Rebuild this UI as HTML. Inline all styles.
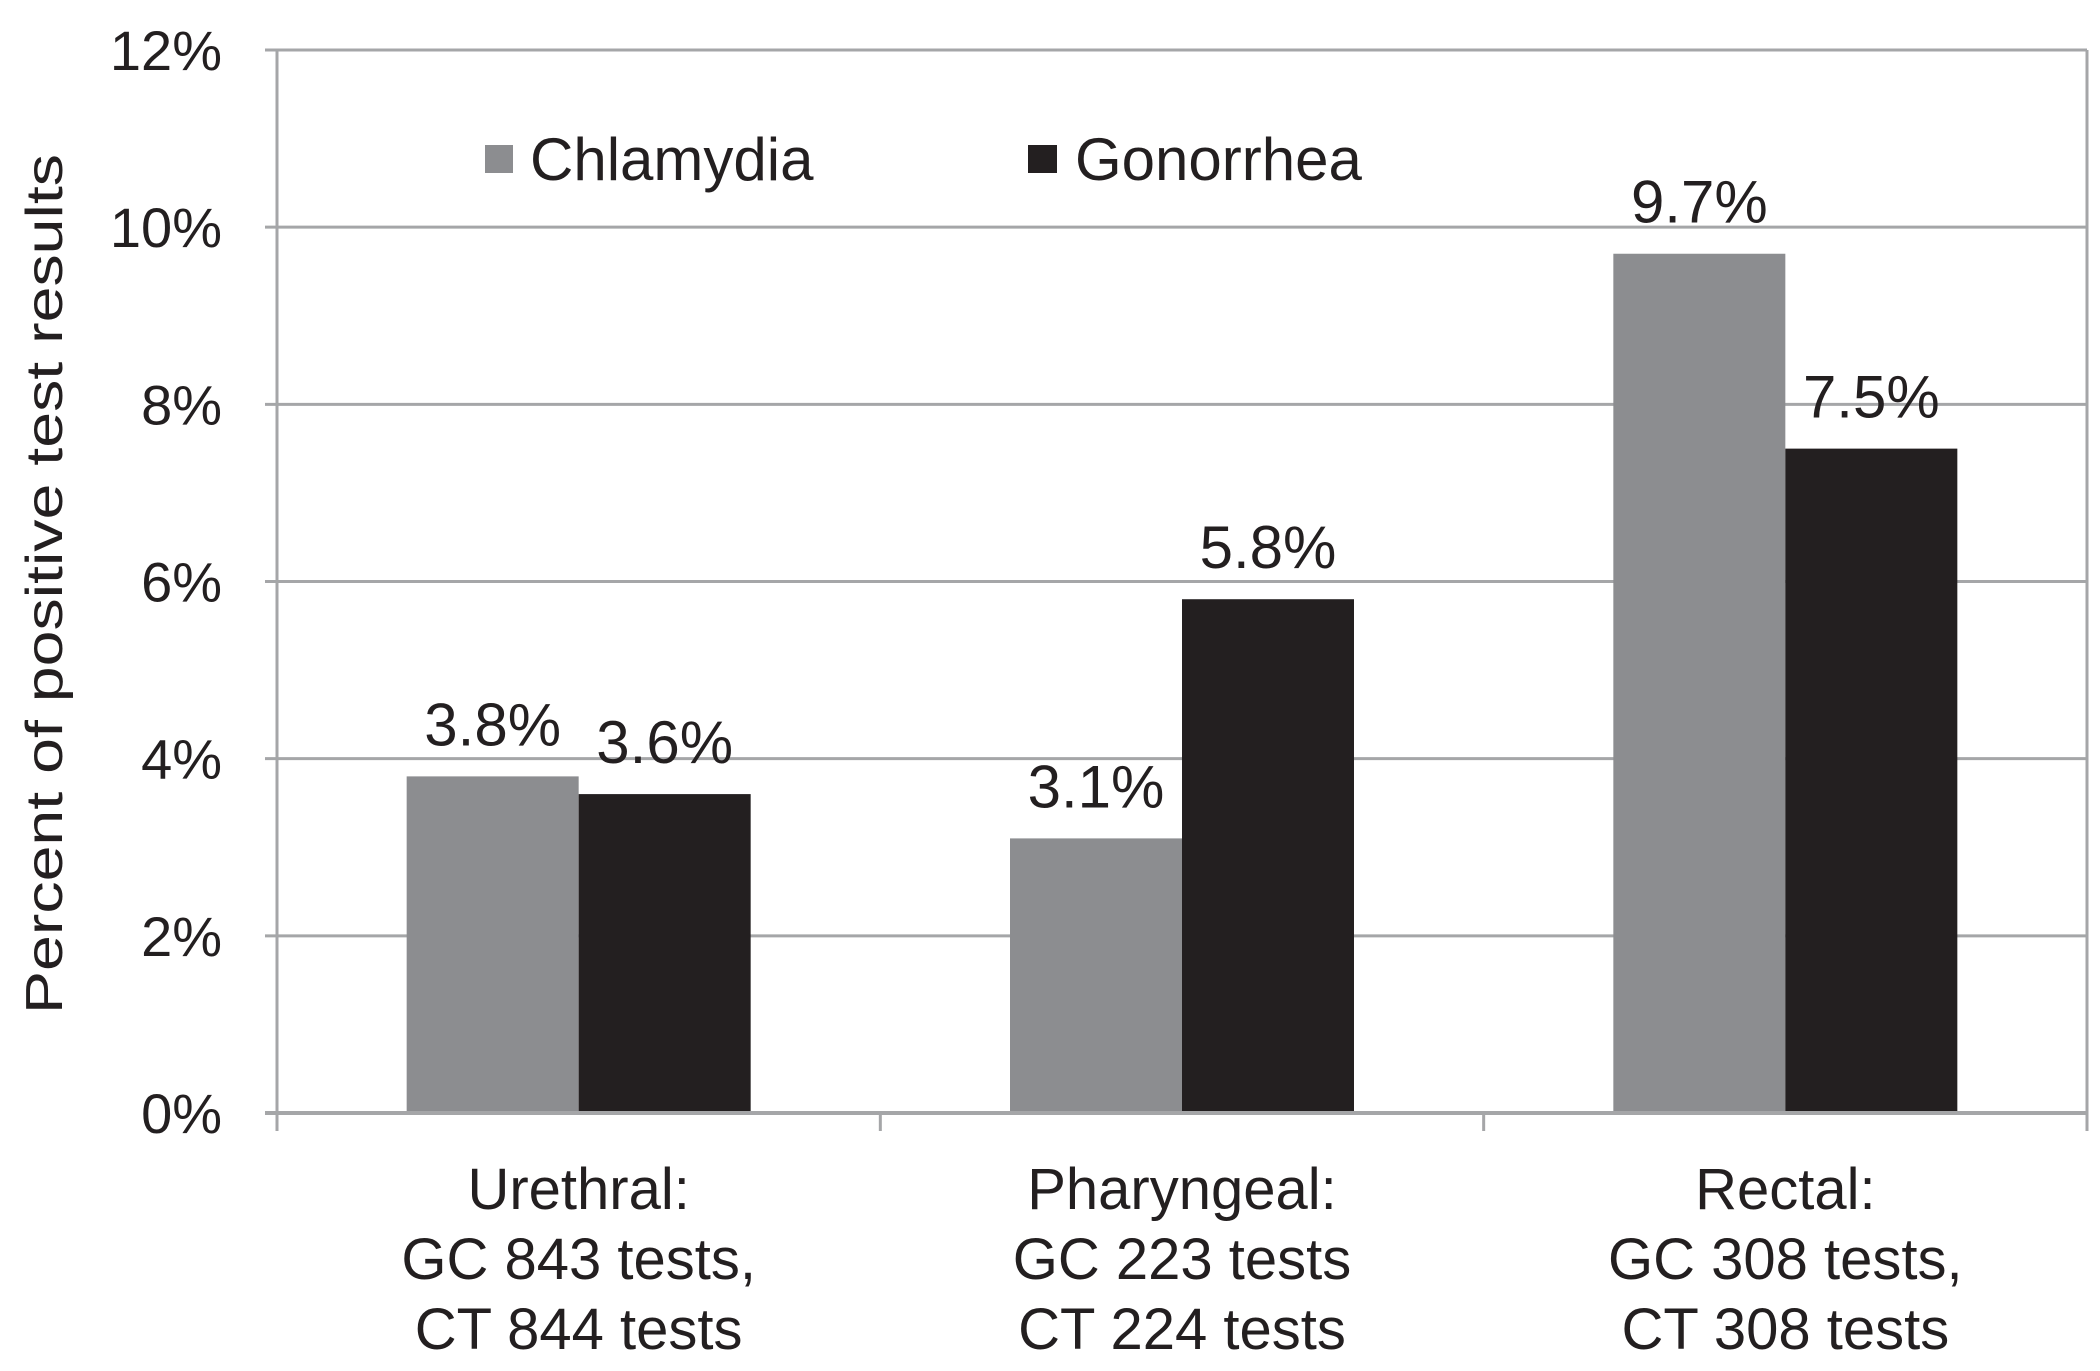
<!DOCTYPE html>
<html><head><meta charset="utf-8"><style>
html,body{margin:0;padding:0;background:#fff;}
svg{display:block;font-family:"Liberation Sans",Arial,sans-serif;}
</style></head><body>
<svg id="chart" width="2100" height="1371" viewBox="0 0 2100 1371">
<g id="grid"></g>
<g id="bars"></g>
<g id="axes"></g>
<g id="labels"></g>
<text transform="translate(62,584) rotate(-90)" text-anchor="middle" font-size="52" textLength="860" lengthAdjust="spacingAndGlyphs" fill="#231f20">Percent of positive test results</text>
<g>
<rect x="485" y="145" width="28" height="28" fill="#8c8d90"/>
<text x="530" y="180" font-size="60" fill="#231f20">Chlamydia</text>
<rect x="1028" y="145" width="29" height="28" fill="#231f20"/>
<text x="1075" y="180" font-size="60" fill="#231f20">Gonorrhea</text>
</g>
</svg>
<script>
const categories = [["Urethral:","GC 843 tests,","CT 844 tests"],["Pharyngeal:","GC 223 tests","CT 224 tests"],["Rectal:","GC 308 tests,","CT 308 tests"]];
const chlamydia = [3.8, 3.1, 9.7];
const gonorrhea = [3.6, 5.8, 7.5];
const yTicks = [0, 2, 4, 6, 8, 10, 12];
const valueLabelsCT = ["3.8%", "3.1%", "9.7%"];
const valueLabelsGC = ["3.6%", "5.8%", "7.5%"];

const NS = "http://www.w3.org/2000/svg";
const L = 277, R = 2087, T = 50, B = 1113, yMax = 12;
const y = v => B - (v / yMax) * (B - T);
const catW = (R - L) / categories.length;
const xc = i => L + (i + 0.5) * catW;
const barW = 172;
function mk(tag, attrs, parent, text) {
  const e = document.createElementNS(NS, tag);
  for (const k in attrs) e.setAttribute(k, attrs[k]);
  if (text !== undefined) e.textContent = text;
  parent.appendChild(e);
  return e;
}
const grid = document.getElementById('grid');
const bars = document.getElementById('bars');
const axes = document.getElementById('axes');
const labels = document.getElementById('labels');

yTicks.forEach(t => {
  if (t > 0) {
    const g = mk('line', {x1: L - 12, x2: R, y1: y(t), y2: y(t), stroke: '#a5a6a8', 'stroke-width': 3}, grid);
    
    
  }
  const tl = mk('text', {x: 222, y: y(t) + 20, 'text-anchor': 'end', 'font-size': 56, fill: '#231f20'}, labels, t + '%');
  
  
});
const rb = mk('line', {x1: R, x2: R, y1: T, y2: B, stroke: '#a5a6a8', 'stroke-width': 3}, axes);



categories.forEach((c, i) => {
  const cx = xc(i);
  const b1 = mk('rect', {x: cx - barW, y: y(chlamydia[i]), width: barW, height: B - y(chlamydia[i]), fill: '#8c8d90'}, bars);
  
  
  const b2 = mk('rect', {x: cx, y: y(gonorrhea[i]), width: barW, height: B - y(gonorrhea[i]), fill: '#231f20'}, bars);
  
  
  const v1 = mk('text', {x: cx - barW / 2, y: y(chlamydia[i]) - 31, 'text-anchor': 'middle', 'font-size': 60, fill: '#231f20'}, labels, valueLabelsCT[i]);
  
  
  const v2 = mk('text', {x: cx + barW / 2, y: y(gonorrhea[i]) - 31, 'text-anchor': 'middle', 'font-size': 60, fill: '#231f20'}, labels, valueLabelsGC[i]);
  
  
  c.forEach((line, j) => {
    const t = mk('text', {x: cx, y: 1209 + j * 70, 'text-anchor': 'middle', 'font-size': 58, fill: '#231f20'}, labels, line);
    
    
  });
});
for (let i = 0; i <= categories.length; i++) {
  const tk = mk('line', {x1: L + i * catW, x2: L + i * catW, y1: B, y2: B + 18, stroke: '#a5a6a8', 'stroke-width': 3}, axes);
  
  
}
const ya = mk('line', {x1: L, x2: L, y1: T, y2: B, stroke: '#a5a6a8', 'stroke-width': 3}, axes);


const xa = mk('line', {x1: L - 12, x2: R, y1: B, y2: B, stroke: '#a5a6a8', 'stroke-width': 4}, axes);


</script>
</body></html>
